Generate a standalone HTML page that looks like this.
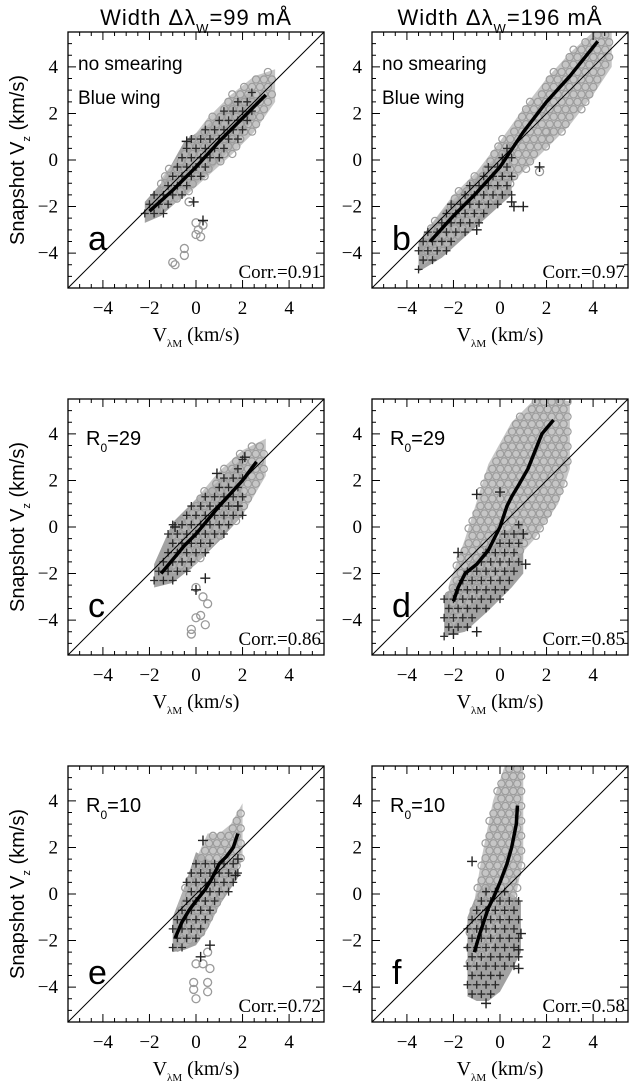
<!DOCTYPE html>
<html><head><meta charset="utf-8"><style>
html,body{margin:0;padding:0;background:#fff}
svg{display:block}
text{font-family:"Liberation Serif","DejaVu Serif",serif;fill:#000}
text.sans{font-family:"Liberation Sans","DejaVu Sans",sans-serif}
</style></head><body>
<svg id="fig" width="629" height="1085" viewBox="0 0 629 1085" xmlns="http://www.w3.org/2000/svg"></svg>
<script>
// ---- data ----
const panelLetters = ["a","b","c","d","e","f"];
const corrValues = ["0.91","0.97","0.86","0.85","0.72","0.58"];
const tickValues = [-4,-2,0,2,4];
const grayX = [[-1.5,-0.5,0.5,1.5,2.5,3.4],[-3.3,-2,-1,0,1,2,3,4,4.8],[-1,0,1,2,3],[-2.2,-1.5,-0.5,0.5,1.5,2.5,3],[-0.8,0,0.5,1,1.5,2],[-1.3,-0.8,-0.3,0.2,0.7,1.0]];
const grayLo = [[-2.2,-1.6,-0.7,0.2,1.2,2.5],[-4.5,-3.6,-2.5,-1.5,-0.5,0.5,1.5,2.8,4.0],[-2,-1.6,-0.5,0.5,2.2],[-4.5,-3.6,-2.6,-1.6,-0.5,1.0,2.5],[-2.5,-2,-1.5,-0.5,0.5,1.5],[-3.5,-3,-2.2,-1,0,1.5]];
const grayHi = [[-0.8,0.5,1.8,2.8,3.6,3.9],[-3.2,-1.5,-0.5,0.8,2.2,3.5,4.6,5.5,5.5],[-0.2,1.2,2.4,3.3,3.8],[-2.5,-0.5,2.7,4.5,5.5,5.5,5.4],[-0.5,1.5,2.6,2.6,3.0,3.9],[-1.5,1.5,4,5.5,5.5,5.5]];
const darkX = [[-2.2,-1.5,-0.5,0.5,1.5,2.5],[-3.5,-2.5,-1.5,-0.5,0.5],[-1.8,-1,0,1,2],[-2.4,-1.5,-0.5,0.5,1],[-1.0,-0.5,0,0.5,1,1.8],[-1.4,-1,-0.5,0,0.5,0.9]];
const darkLo = [[-2.7,-2.4,-1.5,-0.6,0.5,1.8],[-4.8,-4.2,-3.3,-2.4,-1.5],[-2.6,-2.4,-1.6,-0.6,0.5],[-4.7,-4.5,-3.6,-2.6,-2.0],[-2.5,-2.4,-2.2,-1.5,-0.5,0.7],[-4.4,-4.6,-4.6,-4.2,-3.3,-2.5]];
const darkHi = [[-1.8,-1.0,0.8,1.5,2.5,3.0],[-3.5,-2.2,-1.2,-0.2,0.8],[-1.6,0.2,1.2,2.0,3.0],[-3,-1.8,-0.8,0.0,0.3],[-1,0.3,1.8,1.5,1.3,1.5],[-1,0,0.5,0.3,0,-0.3]];
const meanX = [[-2,-1,0,1,2,3],[-3,-2,-1,0,1,2,3,4.2],[-1.5,-1,-0.5,0,0.5,1,2,2.6],[-2,-1.8,-1.5,-1,-0.5,0,0.3,0.5,0.8,1.2,1.8,2.3],[-0.9,-0.6,-0.3,0,0.4,0.7,1,1.3,1.6,1.8],[-1.1,-0.9,-0.7,-0.5,-0.3,0,0.3,0.5,0.7,0.75]];
const meanY = [[-2.2,-1.3,-0.3,0.8,1.8,2.8],[-3.5,-2.4,-1.4,-0.3,1.2,2.5,3.6,5.1],[-2.0,-1.4,-0.8,-0.3,0.3,0.9,2.0,2.8],[-3.2,-2.6,-2.0,-1.6,-1.0,0,0.9,1.3,1.8,2.5,4.0,4.6],[-1.9,-1.2,-0.7,-0.3,0.2,0.7,1.3,1.6,2.0,2.6],[-2.5,-1.8,-1.2,-0.6,-0.2,0.5,1.3,2.0,3.0,3.8]];
const circX = [[-0.3,0,0.1,0.2,0,-0.5,-0.5,-1.0,-0.9,0.3],[2,1.7],[0,0.3,0.5,0,-0.2,-0.2,0.4,0.2],[],[0,0.3,0.6,-0.1,-0.1,0,0.5,0.5,0.5],[]];
const circY = [[-1.8,-2.7,-3.0,-3.3,-3.2,-3.8,-4.1,-4.4,-4.5,-2.8],[1.2,-0.5],[-2.6,-3,-3.3,-3.9,-4.4,-4.6,-4.2,-3.8],[],[-3,-3,-3.2,-3.8,-4.1,-4.5,-3.8,-4.2,-2.5],[]];
const crossX = [[-0.1,0.3,-0.4],[1.7,0.5,0.6,-1,1],[0.4,0,1.8,0.9,2.1,-0.9],[-1,0,-1.8,1,1.1,-1,-2],[0.2,0.6,0.3,1.8,1.7],[-1.2,0.9,0.8,0.8,-0.6]];
const crossY = [[-1.8,-2.6,0.8],[-0.3,-1.8,-2.0,-3,-2],[-2.2,-2.7,0.9,2.3,3.0,0],[1.4,1.5,-1.1,-0.3,-1.6,-4.5,-4.6],[-2.7,-2.2,2.3,1.5,0.8],[1.4,-1.7,-2.4,-3.2,-4.7]];

// ---- layout ----
const NS="http://www.w3.org/2000/svg";
const svg=document.getElementById('fig');
const colX=[68,372], rowY=[32,399,766], S=256, LO=-5.5, HI=5.5;
function mk(tag,attrs,parent){const e=document.createElementNS(NS,tag);for(const k in attrs)e.setAttribute(k,attrs[k]);(parent||svg).appendChild(e);return e;}
function interp(xs,ys,x){if(x<=xs[0])return ys[0];for(let i=1;i<xs.length;i++){if(x<=xs[i]){const t=(x-xs[i-1])/(xs[i]-xs[i-1]);return ys[i-1]+t*(ys[i]-ys[i-1]);}}return ys[ys.length-1];}

[["99",0],["196",1]].forEach(([w,c])=>{
  const t=mk('text',{x:colX[c]+S/2,y:25,'text-anchor':'middle','font-size':22,'class':'sans','letter-spacing':'1'});
  
  
  t.innerHTML='Width Δλ<tspan font-size="13" dy="8">W</tspan><tspan dy="-8">=</tspan>'+w+' mÅ';
});

for(let p=0;p<6;p++){
  const c=p%2, r=Math.floor(p/2), X0=colX[c], Y0=rowY[r];
  const sx=v=>X0+(v-LO)/(HI-LO)*S, sy=v=>Y0+S-(v-LO)/(HI-LO)*S;
  const g=mk('g',{});
  
  
  const cid='clip'+p;
  const cp=mk('clipPath',{id:cid},g); mk('rect',{x:X0,y:Y0,width:S,height:S},cp);
  const inner=mk('g',{'clip-path':'url(#'+cid+')'},g);
  const dx=darkX[p],dlo=darkLo[p],dhi=darkHi[p];
  let pts=dx.map((x,i)=>sx(x)+','+sy(dhi[i])).concat(dx.slice().reverse().map((x,i)=>sx(x)+','+sy(dlo[dx.length-1-i])));
  const dp=mk('polygon',{points:pts.join(' '),fill:'#555','fill-opacity':0.55,stroke:'none'},inner);
  
  
  const gx=grayX[p],glo=grayLo[p],ghi=grayHi[p];
  pts=gx.map((x,i)=>sx(x)+','+sy(ghi[i])).concat(gx.slice().reverse().map((x,i)=>sx(x)+','+sy(glo[gx.length-1-i])));
  const gp=mk('polygon',{points:pts.join(' '),fill:'#b8b8b8','fill-opacity':0.8,stroke:'none'},inner);
  
  
  let row=0;
  for(let y=-5.5;y<=5.5;y+=0.32,row++){
    for(let x=gx[0]+(row%2)*0.17;x<=gx[gx.length-1];x+=0.34){const lo=interp(gx,glo,x),hi=interp(gx,ghi,x);if(y>=lo&&y<=hi)mk('circle',{cx:sx(x),cy:sy(y),r:3.6,fill:'none',stroke:'#9c9c9c','stroke-width':1.2},inner);}
  }
  row=0;
  for(let y=-5.5;y<=5.5;y+=0.4,row++){
    for(let x=dx[0]+(row%2)*0.2;x<=dx[dx.length-1];x+=0.4){const lo=interp(dx,dlo,x),hi=interp(dx,dhi,x);if(y>=lo&&y<=hi){const X=sx(x),Y=sy(y);mk('path',{d:`M${X-4},${Y}h8M${X},${Y-4}v8`,stroke:'#2a2a2a','stroke-width':1.3},inner);}}
  }
  circX[p].forEach((x,i)=>{const e=mk('circle',{cx:sx(x),cy:sy(circY[p][i]),r:4,fill:'none',stroke:'#9a9a9a','stroke-width':1.3},inner);
    
    });
  crossX[p].forEach((x,i)=>{const X=sx(x),Y=sy(crossY[p][i]);const e=mk('path',{d:`M${X-5},${Y}h10M${X},${Y-5}v10`,stroke:'#222','stroke-width':1.4},inner);
    
    });
  const dg=mk('line',{x1:sx(LO),y1:sy(LO),x2:sx(HI),y2:sy(HI),stroke:'#000','stroke-width':1},inner);
  
  
  const ml=mk('polyline',{points:meanX[p].map((x,i)=>sx(x)+','+sy(meanY[p][i])).join(' '),fill:'none',stroke:'#000','stroke-width':3.5,'stroke-linejoin':'round'},inner);
  
  
  const fr=mk('rect',{x:X0,y:Y0,width:S,height:S,fill:'none',stroke:'#000','stroke-width':1.3},g);
  
  
  for(let v=-5;v<=5.001;v+=0.5){
    const major=Math.abs(v/2-Math.round(v/2))<1e-6, L=major?8:4;
    mk('path',{d:`M${sx(v)},${Y0+S}v${-L}M${sx(v)},${Y0}v${L}M${X0},${sy(v)}h${L}M${X0+S},${sy(v)}h${-L}`,stroke:'#000','stroke-width':1},g);
  }
  tickValues.forEach(v=>{
    const lbl=(v<0?'−':'')+Math.abs(v);
    const tx=mk('text',{x:sx(v),y:Y0+S+26,'text-anchor':'middle','font-size':19},g);tx.textContent=lbl;
    
    
    const ty=mk('text',{x:X0-10,y:sy(v)+6,'text-anchor':'end','font-size':19},g);ty.textContent=lbl;
    
    
  });
  const xt=mk('text',{x:X0+S/2,y:Y0+S+53,'text-anchor':'middle','font-size':20},g);
  
  
  xt.innerHTML='V<tspan font-size="11" dy="6">λM</tspan><tspan dy="-6"> (km/s)</tspan>';
  if(c===0){
    const yt=mk('text',{transform:`translate(24,${Y0+S/2}) rotate(-90)`,'text-anchor':'middle','font-size':20,'class':'sans'},g);
    
    
    yt.innerHTML='Snapshot V<tspan font-size="11" dy="6">z</tspan><tspan dy="-6"> (km/s)</tspan>';
  }
  const pl=mk('text',{x:X0+20,y:Y0+218,'font-size':34,'class':'sans'},g);
  pl.textContent=panelLetters[p];
  
  
  const cr=mk('text',{x:X0+S-3,y:Y0+S-10,'text-anchor':'end','font-size':19},g);
  cr.textContent='Corr.='+corrValues[p];
  
  
  if(r===0){
    const a1=mk('text',{x:X0+10,y:Y0+38,'font-size':19,'class':'sans'},g);a1.textContent='no smearing';
    
    
    const a2=mk('text',{x:X0+10,y:Y0+72,'font-size':19,'class':'sans'},g);a2.textContent='Blue wing';
    
    
  } else {
    const a=mk('text',{x:X0+18,y:Y0+46,'font-size':20,'class':'sans'},g);
    a.innerHTML='R<tspan font-size="12" dy="7">0</tspan><tspan dy="-7">='+(r===1?'29':'10')+'</tspan>';
    
    
  }
}
</script>
</body></html>
